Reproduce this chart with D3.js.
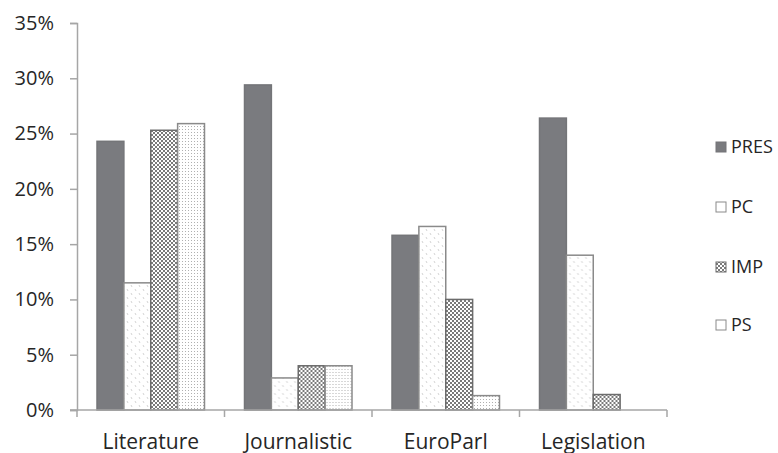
<!DOCTYPE html>
<html>
<head>
<meta charset="utf-8">
<script src="https://cdn.jsdelivr.net/npm/d3@7"></script>
<style>
  body { margin: 0; background: #fff; }
  text { font-family: "Open Sans", sans-serif; fill: #262626; }
</style>
</head>
<body>
<script>
var w = 778;
var h = 453;

var categories = ["Literature", "Journalistic", "EuroParl", "Legislation"];
var seriesNames = ["PRES", "PC", "IMP", "PS"];
var pres = [24.3, 29.4, 15.8, 26.4];
var pc = [11.5, 2.9, 16.6, 14.0];
var imp = [25.3, 4.0, 10.0, 1.4];
var ps = [25.9, 4.0, 1.3, 0];
var yTicks = [0, 5, 10, 15, 20, 25, 30, 35];

var seriesValues = [pres, pc, imp, ps];

var mLeft = 77, mRight = 667, mTop = 23, mBottom = 410;

var svg = d3.select("body")
            .append("svg")
            .attr("width", w)
            .attr("height", h);

// fill patterns
var defs = svg.append("defs");

var pPC = defs.append("pattern").attr("id", "p-pc")
  .attr("patternUnits", "userSpaceOnUse").attr("width", 8).attr("height", 8);
pPC.append("rect").attr("width", 8).attr("height", 8).attr("fill", "#fff");
pPC.append("line").attr("x1", 2).attr("y1", 1).attr("x2", 3).attr("y2", 3)
  .attr("stroke", "#c8c8c8").attr("stroke-width", 0.8);
pPC.append("line").attr("x1", 6).attr("y1", 5).attr("x2", 7).attr("y2", 7)
  .attr("stroke", "#c8c8c8").attr("stroke-width", 0.8);

var pIMP = defs.append("pattern").attr("id", "p-imp")
  .attr("patternUnits", "userSpaceOnUse").attr("width", 4).attr("height", 4);
pIMP.append("rect").attr("width", 4).attr("height", 4).attr("fill", "#fff");
pIMP.append("rect").attr("width", 2).attr("height", 2).attr("fill", "#7a7a7a");
pIMP.append("rect").attr("x", 2).attr("y", 2).attr("width", 2).attr("height", 2).attr("fill", "#7a7a7a");

var pPS = defs.append("pattern").attr("id", "p-ps")
  .attr("patternUnits", "userSpaceOnUse").attr("width", 3).attr("height", 3);
pPS.append("rect").attr("width", 3).attr("height", 3).attr("fill", "#fff");
pPS.append("rect").attr("width", 1).attr("height", 1).attr("fill", "#b0b0b0");

var fills = ["#7a7b7f", "url(#p-pc)", "url(#p-imp)", "url(#p-ps)"];
var strokes = ["#747578", "#8a8a8a", "#6c6c6c", "#8a8a8a"];

var x0 = d3.scaleBand().domain(categories).range([mLeft, mRight]).paddingInner(0).paddingOuter(0);
var x1 = d3.scaleBand().domain(seriesNames).range([20, x0.bandwidth() - 20]);
var y = d3.scaleLinear().domain([0, 35]).range([mBottom, mTop]);

// y axis
var yAxis = d3.axisLeft(y).tickValues(yTicks).tickSize(7).tickPadding(16)
  .tickFormat(function(d){ return d + "%"; });
var gy = svg.append("g").attr("transform", "translate(" + mLeft + ",0)").call(yAxis);
gy.select(".domain").attr("stroke", "#a6a6a6").attr("stroke-width", 1.5);
gy.selectAll(".tick line").attr("stroke", "#a6a6a6").attr("stroke-width", 1.5);
gy.selectAll("text").attr("font-size", "20px").attr("font-family", "Open Sans").attr("fill", "#262626");

// bars
var groups = svg.selectAll("g.cat")
  .data(categories)
  .enter()
  .append("g")
  .attr("class", "cat")
  .attr("transform", function(d){ return "translate(" + x0(d) + ",0)"; });

groups.selectAll("rect")
  .data(function(d, i){ return seriesNames.map(function(s, j){ return {s: s, j: j, v: seriesValues[j][i]}; }).filter(function(e){ return e.v > 0; }); })
  .enter()
  .append("rect")
  .attr("x", function(d){ return x1(d.s); })
  .attr("y", function(d){ return y(d.v); })
  .attr("width", x1.bandwidth())
  .attr("height", function(d){ return y(0) - y(d.v); })
  .attr("fill", function(d){ return fills[d.j]; })
  .attr("stroke", function(d){ return strokes[d.j]; })
  .attr("stroke-width", 1.5);

// x axis
var xAxis = d3.axisBottom(x0).tickSize(0).tickPadding(24);
var gx = svg.append("g").attr("transform", "translate(0," + mBottom + ")").call(xAxis);
gx.select(".domain").attr("stroke", "#a6a6a6").attr("stroke-width", 1.5).attr("d", "M" + (mLeft - 7) + ",0H" + mRight);
gx.selectAll("text").attr("font-size", "21px").attr("font-family", "Open Sans").attr("fill", "#262626");
svg.append("g").selectAll("line")
  .data(categories.concat(["end"]))
  .enter()
  .append("line")
  .attr("x1", function(d, i){ return mLeft + i * x0.step(); })
  .attr("x2", function(d, i){ return mLeft + i * x0.step(); })
  .attr("y1", mBottom)
  .attr("y2", mBottom + 7)
  .attr("stroke", "#a6a6a6")
  .attr("stroke-width", 1.5);

// legend
var legendY = [147, 207, 267, 325];
var legend = svg.selectAll("g.legend")
  .data(seriesNames)
  .enter()
  .append("g")
  .attr("class", "legend")
  .attr("transform", function(d, i){ return "translate(716," + legendY[i] + ")"; });

legend.append("rect")
  .attr("x", 0).attr("y", -5)
  .attr("width", 10).attr("height", 10)
  .attr("fill", function(d, i){ return i === 0 ? fills[0] : (i === 2 ? "url(#p-imp)" : "#fff"); })
  .attr("stroke", function(d, i){ return strokes[i]; })
  .attr("stroke-width", 1);

legend.append("text")
  .text(function(d){ return d; })
  .attr("x", 15)
  .attr("y", 0)
  .attr("dy", "0.35em")
  .attr("font-size", "18px")
  .attr("fill", "#262626");
</script>
</body>
</html>
